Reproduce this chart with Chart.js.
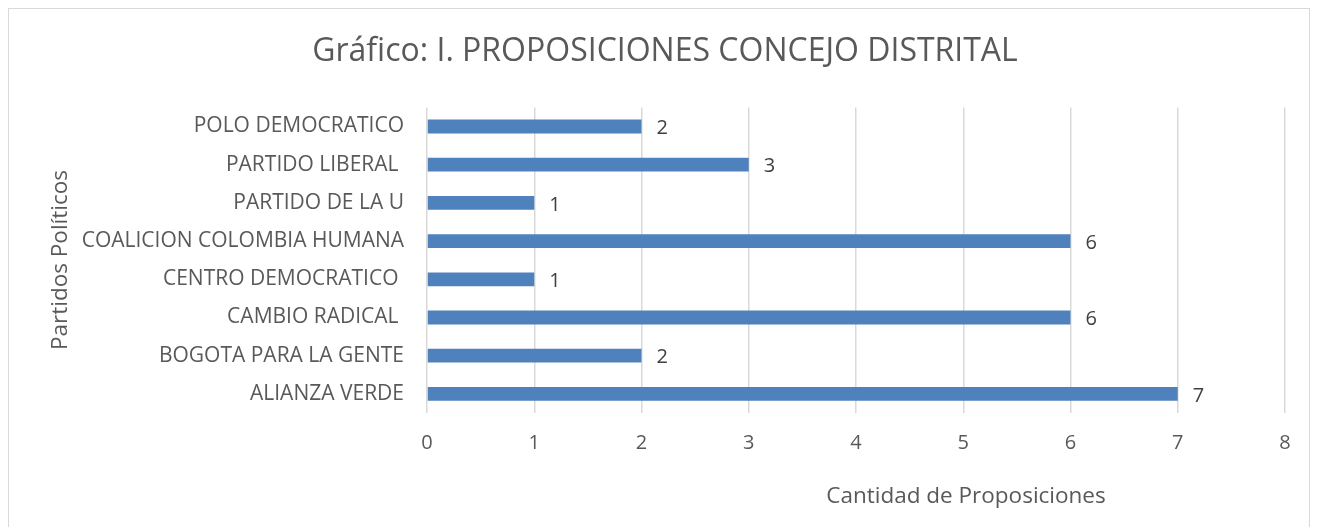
<!DOCTYPE html>
<html>
<head>
<meta charset="utf-8">
<script src="https://cdn.jsdelivr.net/npm/chart.js@4.4.1/dist/chart.umd.min.js"></script>
<style>
  body { margin: 0; background: #fff; }
  #wrap { position: relative; width: 1317px; height: 527px; }
  #frame { position: absolute; left: 8px; top: 8px; width: 1300px; height: 540px; border: 1.5px solid #d9d9d9; pointer-events: none; }
</style>
</head>
<body>
<div id="wrap">
  <canvas id="chart" width="1317" height="527"></canvas>
  <div id="frame"></div>
</div>
<script>
// Parties, top to bottom as in the picture
const partidos = [
  'POLO DEMOCRATICO',
  'PARTIDO LIBERAL ',
  'PARTIDO DE LA U',
  'COALICION COLOMBIA HUMANA',
  'CENTRO DEMOCRATICO ',
  'CAMBIO RADICAL ',
  'BOGOTA PARA LA GENTE',
  'ALIANZA VERDE'
];
const proposiciones = [2, 3, 1, 6, 1, 6, 2, 7];

const titulo = 'Gráfico: I. PROPOSICIONES CONCEJO DISTRITAL';
const tituloX = 'Cantidad de Proposiciones';
const tituloY = 'Partidos Políticos';

const fontFamily = '"Open Sans", "Liberation Sans", sans-serif';
const textColor = '#595959';

// value labels at the end of each bar + the two axis titles
const extraText = {
  id: 'extraText',
  afterDatasetsDraw(chart) {
    const ctx = chart.ctx;
    const meta = chart.getDatasetMeta(0);
    ctx.save();
    ctx.fillStyle = '#404040';
    ctx.font = '20px ' + fontFamily;
    ctx.textBaseline = 'middle';
    ctx.textAlign = 'left';
    meta.data.forEach((bar, i) => {
      ctx.fillText(String(proposiciones[i]), bar.x + 15, bar.y + 2);
    });

    // axis titles
    ctx.fillStyle = textColor;
    ctx.font = '22.5px ' + fontFamily;
    ctx.textAlign = 'center';
    ctx.fillText(tituloX, 966, 497);

    ctx.translate(61, 260);
    ctx.rotate(-Math.PI / 2);
    ctx.fillText(tituloY, 0, 0);
    ctx.restore();
  }
};

new Chart(document.getElementById('chart'), {
  type: 'bar',
  data: {
    labels: partidos,
    datasets: [{
      data: proposiciones,
      backgroundColor: '#4f81bd',
      borderWidth: 0,
      barPercentage: 0.36,
      categoryPercentage: 1
    }]
  },
  options: {
    indexAxis: 'y',
    responsive: false,
    animation: false,
    layout: { padding: { left: 45, right: 32, top: 0, bottom: 0 } },
    plugins: {
      legend: { display: false },
      tooltip: { enabled: false },
      title: {
        display: true,
        text: titulo,
        color: textColor,
        font: { family: fontFamily, size: 32, weight: 'normal' },
        padding: { top: 33, bottom: 36 }
      }
    },
    scales: {
      x: {
        min: 0,
        max: 8,
        ticks: { stepSize: 1, color: textColor, font: { family: fontFamily, size: 20 }, padding: 18 },
        grid: { color: '#d9d9d9', lineWidth: 1.5, drawTicks: false },
        border: { display: false },
        afterFit(scale) { scale.height = 114; }
      },
      y: {
        ticks: { color: textColor, font: { family: fontFamily, size: 21 }, padding: 23 },
        grid: { display: false, drawTicks: false },
        border: { display: false },
        afterFit(scale) { scale.width = 382; }
      }
    }
  },
  plugins: [extraText]
});
</script>
</body>
</html>
